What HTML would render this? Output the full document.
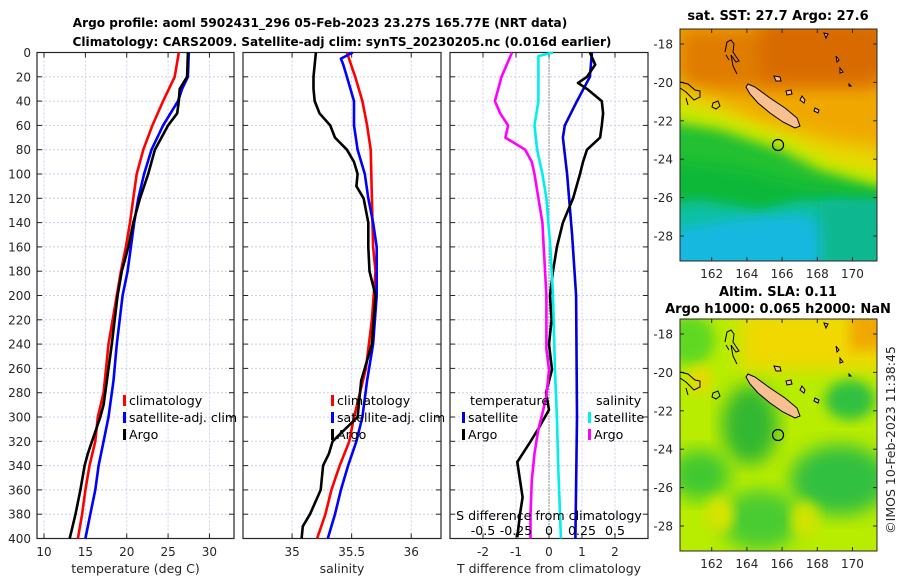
<!DOCTYPE html>
<html><head><meta charset="utf-8"><style>
html,body{margin:0;padding:0;background:#fff;}
svg{display:block;font-family:"DejaVu Sans","Liberation Sans",sans-serif;}
.tk{font-size:12px;fill:#262626;}
.ttl{font-size:12.1px;font-weight:bold;fill:#000;}
.mttl{font-size:13px;font-weight:bold;fill:#000;}
.lg{font-size:12.6px;fill:#000;}
</style></head><body>
<svg id="chart" width="900" height="580" viewBox="0 0 900 580">
<defs>
<filter id="blur6" x="-20%" y="-20%" width="140%" height="140%"><feGaussianBlur stdDeviation="6"/></filter>
<filter id="blur10" x="-20%" y="-20%" width="140%" height="140%"><feGaussianBlur stdDeviation="9"/></filter>
<clipPath id="clipTop"><rect x="680" y="29" width="197" height="232"/></clipPath>
<clipPath id="clipBot"><rect x="680" y="319" width="197" height="232"/></clipPath>
</defs>
<text class="ttl" x="320" y="27" text-anchor="middle">Argo profile: aoml 5902431_296 05-Feb-2023 23.27S 165.77E (NRT data)</text>
<text class="ttl" x="342" y="46" text-anchor="middle">Climatology: CARS2009. Satellite-adj clim: synTS_20230205.nc (0.016d earlier)</text>
<g id="panels"></g>

<g>
<text class="mttl" x="778" y="20" text-anchor="middle">sat. SST: 27.7 Argo: 27.6</text>
<g clip-path="url(#clipTop)">
<rect x="680" y="29" width="197" height="232" fill="#f0a800"/>
<rect x="680" y="29" width="197" height="60" fill="#e07c00" filter="url(#blur10)"/>
<rect x="760" y="20" width="130" height="60" fill="#d86a00" filter="url(#blur10)"/>
<polygon points="660,80 700,95 760,120 830,140 890,150 890,200 660,200" fill="#e8d800" filter="url(#blur10)"/>
<polygon points="660,100 720,115 790,140 830,160 890,175 890,270 660,270" fill="#c8e800" filter="url(#blur6)"/>
<polygon points="660,120 720,130 780,150 820,170 890,190 890,270 660,270" fill="#22c030" filter="url(#blur6)"/>
<polygon points="660,160 740,170 800,185 890,195 890,270 660,270" fill="#10b838" filter="url(#blur6)"/>
<polygon points="660,205 700,200 760,210 800,200 890,205 890,270 660,270" fill="#10c0a0" filter="url(#blur6)"/>
<polygon points="660,232 740,218 800,215 830,225 860,240 890,235 890,270 660,270" fill="#18b8e0" filter="url(#blur6)"/>
<rect x="820" y="200" width="70" height="70" fill="#10b890" filter="url(#blur6)"/>
</g>
<rect x="680" y="29" width="197" height="232" fill="none" stroke="#262626" stroke-width="1"/>
</g>

<g>
<text class="mttl" x="778" y="296" text-anchor="middle">Altim. SLA: 0.11</text>
<text class="mttl" x="778" y="313" text-anchor="middle">Argo h1000: 0.065 h2000: NaN</text>
<g clip-path="url(#clipBot)">
<rect x="680" y="319" width="197" height="232" fill="#b8ec00"/>
<rect x="740" y="310" width="150" height="60" fill="#f0d800" filter="url(#blur10)"/>
<rect x="850" y="310" width="40" height="40" fill="#f0a800" filter="url(#blur6)"/>
<ellipse cx="690" cy="340" rx="25" ry="25" fill="#60d820" filter="url(#blur6)"/>
<ellipse cx="750" cy="425" rx="28" ry="40" fill="#30b830" filter="url(#blur10)"/>
<ellipse cx="850" cy="400" rx="25" ry="20" fill="#30c040" filter="url(#blur6)"/>
<ellipse cx="700" cy="475" rx="30" ry="25" fill="#40c830" filter="url(#blur10)"/>
<ellipse cx="840" cy="480" rx="50" ry="35" fill="#30c040" filter="url(#blur10)"/>
<ellipse cx="760" cy="520" rx="40" ry="30" fill="#48cc30" filter="url(#blur10)"/>
<ellipse cx="700" cy="380" rx="12" ry="14" fill="#e8d800" filter="url(#blur6)"/>
<ellipse cx="720" cy="515" rx="14" ry="18" fill="#d8e400" filter="url(#blur6)"/>
<ellipse cx="805" cy="520" rx="14" ry="18" fill="#d0e400" filter="url(#blur6)"/>
</g>
<rect x="680" y="319" width="197" height="232" fill="none" stroke="#262626" stroke-width="1"/>
</g>
<text class="tk" transform="translate(895,440) rotate(-90)" text-anchor="middle" style="font-size:12.5px">©IMOS 10-Feb-2023 11:38:45</text>
<g id="maps-overlay"></g>
</svg>
<script>
// ---------- data ----------
const depthTicks = [0,20,40,60,80,100,120,140,160,180,200,220,240,260,280,300,320,340,360,380,400];
const tempTicks = [10,15,20,25,30];
const salTicks = [35,35.5,36];
const salTickLabels = ["35","35.5","36"];
const diffTicks = [-2,-1,0,1,2];
const sdiffTicks = [-0.5,-0.25,0,0.25,0.5];
const sdiffTickLabels = ["-0.5","-0.25","0","0.25","0.5"];

const tClimDepth = [0,20,40,60,80,100,120,140,160,180,200,240,280,300,320,340,360,380,400];
const tClimVals  = [26.3,25.8,24.4,23.1,22.0,21.2,20.8,20.4,19.9,19.3,18.8,17.8,17.2,16.5,16.2,15.5,15.0,14.6,14.1];
const tSatDepth  = [0,20,30,40,60,80,100,120,140,160,180,200,240,270,300,320,340,360,380,400];
const tSatVals   = [27.5,27.4,26.7,26.2,24.4,23.0,22.1,21.4,20.9,20.5,20.1,19.5,18.8,18.4,17.8,17.2,16.6,16.2,15.6,15.0];
const tArgoDepth = [0,20,30,40,50,60,80,100,120,140,160,180,200,240,270,290,300,320,330,340,360,380,400];
const tArgoVals  = [27.4,27.3,26.4,26.3,26.1,25.0,23.4,22.6,21.6,20.8,20.2,19.4,18.9,18.2,17.6,17.2,16.8,15.8,15.3,14.9,14.4,13.8,13.1];

const sClimDepth = [0,20,40,60,80,120,160,180,220,260,280,300,320,340,360,380,400];
const sClimVals  = [35.46,35.53,35.59,35.63,35.66,35.67,35.68,35.70,35.67,35.62,35.57,35.52,35.48,35.40,35.33,35.28,35.21];
const sSatDepth  = [0,5,10,20,40,60,80,100,120,140,160,200,240,270,300,320,340,360,380,400];
const sSatVals   = [35.51,35.41,35.43,35.46,35.52,35.52,35.55,35.61,35.64,35.68,35.71,35.71,35.68,35.63,35.59,35.54,35.47,35.41,35.36,35.30];
const sArgoDepth = [0,20,30,40,50,60,70,80,90,100,110,120,140,160,180,200,240,270,300,320,330,340,360,380,390,400];
const sArgoVals  = [35.20,35.18,35.18,35.19,35.23,35.32,35.36,35.46,35.52,35.55,35.54,35.60,35.64,35.64,35.65,35.70,35.67,35.58,35.55,35.34,35.31,35.26,35.24,35.15,35.09,35.08];

const dTSatDepth = [0,20,40,60,70,100,150,200,300,400];
const dTSatVals  = [1.3,1.24,0.85,0.48,0.42,0.55,0.70,0.82,0.85,0.80];
const dTArgoDepth = [0,10,20,25,30,40,50,60,70,80,90,100,120,140,160,180,200,220,240,261,280,294,310,321,337,352,366,380,399];
const dTArgoVals  = [1.24,1.4,1.15,0.88,1.15,1.6,1.64,1.6,1.55,1.15,1.03,0.94,0.73,0.42,0.24,0.12,0.03,0.08,0.0,0.09,-0.09,0.0,-0.33,-0.58,-0.96,-0.88,-0.8,-0.88,-0.96];
const dSSatDepth = [0,3,20,40,60,80,100,120,160,200,260,300,340,400];
const dSSatVals  = [0.03,-0.08,-0.08,-0.08,-0.11,-0.09,-0.05,-0.02,0.01,0.03,0.045,0.06,0.07,0.09];
const dSArgoDepth = [0,20,40,50,60,70,80,90,100,120,140,160,200,220,244,261,283,297,310,330,352,380,400];
const dSArgoVals  = [-0.28,-0.36,-0.41,-0.37,-0.31,-0.33,-0.18,-0.13,-0.11,-0.08,-0.05,-0.04,-0.02,-0.02,-0.02,0.0,-0.02,-0.05,-0.08,-0.11,-0.13,-0.14,-0.14];

// ---------- drawing ----------
const NS='http://www.w3.org/2000/svg';
const root=document.getElementById('panels');
const Y0=52.5, Y1=538.5;
const yOf=d=>Y0+(d/400)*(Y1-Y0);
function mk(tag,attrs,parent){const e=document.createElementNS(NS,tag);for(const k in attrs)e.setAttribute(k,attrs[k]);(parent||root).appendChild(e);return e;}

const panels=[
 {name:'temperature-panel',x0:37,x1:234,vmin:9.15,vmax:32.97,ticks:tempTicks,labels:tempTicks.map(String),xlabel:'temperature (deg C)',ylabels:true},
 {name:'salinity-panel',x0:243,x1:441,vmin:34.588,vmax:36.25,ticks:salTicks,labels:salTickLabels,xlabel:'salinity'},
 {name:'difference-panel',x0:450,x1:648,vmin:-3,vmax:3,ticks:diffTicks,labels:diffTicks.map(String),xlabel:'T difference from climatology'}
];
function xFn(p){return v=>p.x0+(v-p.vmin)/(p.vmax-p.vmin)*(p.x1-p.x0);}

panels.forEach((p,i)=>{
  const g=mk('g',{});
  
  
  const X=xFn(p);
  p.ticks.forEach(t=>{const l=mk('line',{x1:X(t),x2:X(t),y1:Y0,y2:Y1,stroke:'#c8cfe8','stroke-width':1,'stroke-dasharray':'2,2'},g);
    
    });
  depthTicks.forEach(d=>{const l=mk('line',{x1:p.x0,x2:p.x1,y1:yOf(d),y2:yOf(d),stroke:'#c8cfe8','stroke-width':1,'stroke-dasharray':'2,2'},g);
    
    });
  depthTicks.forEach(d=>{
    mk('line',{x1:p.x0,x2:p.x0+5,y1:yOf(d),y2:yOf(d),stroke:'#262626'},g);
    mk('line',{x1:p.x1,x2:p.x1-5,y1:yOf(d),y2:yOf(d),stroke:'#262626'},g);
    if(p.ylabels){const t=mk('text',{x:p.x0-6,y:yOf(d)+4.5,'text-anchor':'end',class:'tk'},g);t.textContent=d;
      
      }
  });
  p.ticks.forEach((t,j)=>{
    mk('line',{x1:X(t),x2:X(t),y1:Y1,y2:Y1-5,stroke:'#262626'},g);
    mk('line',{x1:X(t),x2:X(t),y1:Y0,y2:Y0+5,stroke:'#262626'},g);
    const tx=mk('text',{x:X(t),y:556,'text-anchor':'middle',class:'tk'},g);tx.textContent=p.labels[j];
    
    
  });
  mk('rect',{x:p.x0,y:Y0,width:p.x1-p.x0,height:Y1-Y0,fill:'none',stroke:'#262626','stroke-width':1.2},g);
  const xl=mk('text',{x:(p.x0+p.x1)/2,y:573,'text-anchor':'middle',class:'tk',style:'font-size:12.5px'},g);xl.textContent=p.xlabel;
  
  
  p.g=g;p.X=X;
});

function line(p,depths,vals,color,name,scale){
  const X=p.X;scale=scale||1;
  const pts=depths.map((d,i)=>X(vals[i]*scale).toFixed(1)+','+yOf(d).toFixed(1)).join(' ');
  const pl=mk('polyline',{points:pts,fill:'none',stroke:color,'stroke-width':2.6,'stroke-linejoin':'round'},p.g);
  
  
}
const zl=mk('line',{x1:panels[2].X(0),x2:panels[2].X(0),y1:Y0,y2:Y1,stroke:'#333','stroke-width':1,'stroke-dasharray':'1,2'},panels[2].g);



line(panels[0],tClimDepth,tClimVals,'#ff0000','temp-climatology-line');
line(panels[0],tSatDepth,tSatVals,'#0000ff','temp-satellite-line');
line(panels[0],tArgoDepth,tArgoVals,'#000000','temp-argo-line');
line(panels[1],sClimDepth,sClimVals,'#ff0000','sal-climatology-line');
line(panels[1],sSatDepth,sSatVals,'#0000ff','sal-satellite-line');
line(panels[1],sArgoDepth,sArgoVals,'#000000','sal-argo-line');
line(panels[2],dTSatDepth,dTSatVals,'#0000dd','tdiff-satellite-line');
line(panels[2],dTArgoDepth,dTArgoVals,'#000000','tdiff-argo-line');
line(panels[2],dSSatDepth,dSSatVals,'#00eeee','sdiff-satellite-line',4);
line(panels[2],dSArgoDepth,dSArgoVals,'#ff00ff','sdiff-argo-line',4);

function legend(g,x,y,color,label){
  const m=mk('rect',{x:x,y:y-10,width:3,height:11,fill:color},g);
  
  
  const t=mk('text',{x:x+6,y:y,class:'lg'},g);t.textContent=label;
  
  
}
[[panels[0],123],[panels[1],331]].forEach(([p,x])=>{
  legend(p.g,x,405,'#ff0000','climatology');
  legend(p.g,x,422,'#0000ff','satellite-adj. clim');
  legend(p.g,x,439,'#000000','Argo');
});
{
  const g=panels[2].g;
  const t1=mk('text',{x:470,y:405,class:'lg'},g);t1.textContent='temperature';
  
  
  const t2=mk('text',{x:596,y:405,class:'lg'},g);t2.textContent='salinity';
  
  
  legend(g,462,422,'#0000dd','satellite');
  legend(g,462,439,'#000000','Argo');
  legend(g,588,422,'#00eeee','satellite');
  legend(g,588,439,'#ff00ff','Argo');
  const st=mk('text',{x:549,y:520,'text-anchor':'middle',class:'lg'},g);st.textContent='S difference from climatology';
  
  
  sdiffTicks.forEach((s,j)=>{const t=mk('text',{x:panels[2].X(s*4),y:535,'text-anchor':'middle',class:'lg'},g);t.textContent=sdiffTickLabels[j];
    
    });
}

// ---------- maps axes & coastlines ----------
const ov=document.getElementById('maps-overlay');
const lonTicks=[162,164,166,168,170];
const latTicks=[-18,-20,-22,-24,-26,-28];
const lonX=lon=>680+(lon-160.2)*17.6;
[[29,261],[319,551]].forEach(([top,bot],mi)=>{
  const latY=lat=>top+15+(-18-lat)*19.2;
  lonTicks.forEach(l=>{
    mk('line',{x1:lonX(l),x2:lonX(l),y1:bot,y2:bot-4,stroke:'#262626'},ov);
    mk('line',{x1:lonX(l),x2:lonX(l),y1:top,y2:top+4,stroke:'#262626'},ov);
    const t=mk('text',{x:lonX(l),y:bot+17,'text-anchor':'middle',class:'tk'},ov);t.textContent=l;
    
    
  });
  latTicks.forEach(l=>{
    mk('line',{x1:680,x2:684,y1:latY(l),y2:latY(l),stroke:'#262626'},ov);
    mk('line',{x1:877,x2:873,y1:latY(l),y2:latY(l),stroke:'#262626'},ov);
    const t=mk('text',{x:673,y:latY(l)+4.5,'text-anchor':'end',class:'tk'},ov);t.textContent=l;
    
    
  });
  const off=top-29;
  const g=mk('g',{transform:'translate(0,'+off+')'},ov);
  
  
  mk('path',{d:'M748,84 L755,87 L770,98 L785,108 L797,118 L800,126 L795,128 L783,122 L770,113 L758,103 L750,94 L746,87 Z',fill:'#f8c090',stroke:'#000','stroke-width':1},g);
  mk('path',{d:'M725,52 L727,42 L731,40 L734,44 L733,52 L737,58 L739,61 L736,62 L731,55 L733,66 L737,74 M729,60 L726,55',fill:'none',stroke:'#000','stroke-width':1},g);
  mk('path',{d:'M680,82 L688,84 L695,90 L700,91 L700,97 L694,100 L690,96 L686,92 L680,88',fill:'none',stroke:'#000','stroke-width':1},g);
  mk('path',{d:'M713,103 L718,101 L720,106 L716,109 L712,107 Z M686,98 L688,105',fill:'none',stroke:'#000','stroke-width':1},g);
  mk('path',{d:'M774,76 L780,77 L781,81 L776,81 Z M786,91 L791,90 L792,94 L787,95 Z M802,96 L805,100 L804,103 L800,100 Z M815,108 L819,110 L818,113 L814,111 Z M824,33 L828,34 L826,38 Z M836,56 L839,60 L837,62 Z M840,68 L843,72 L840,73 Z M849,84 L851,86 L849,86 Z',fill:'#f8c090',stroke:'#000','stroke-width':1},g);
  mk('circle',{cx:lonX(165.77),cy:145,r:5.5,fill:'none',stroke:'#000','stroke-width':1.2},g);
});
</script>
</body></html>
